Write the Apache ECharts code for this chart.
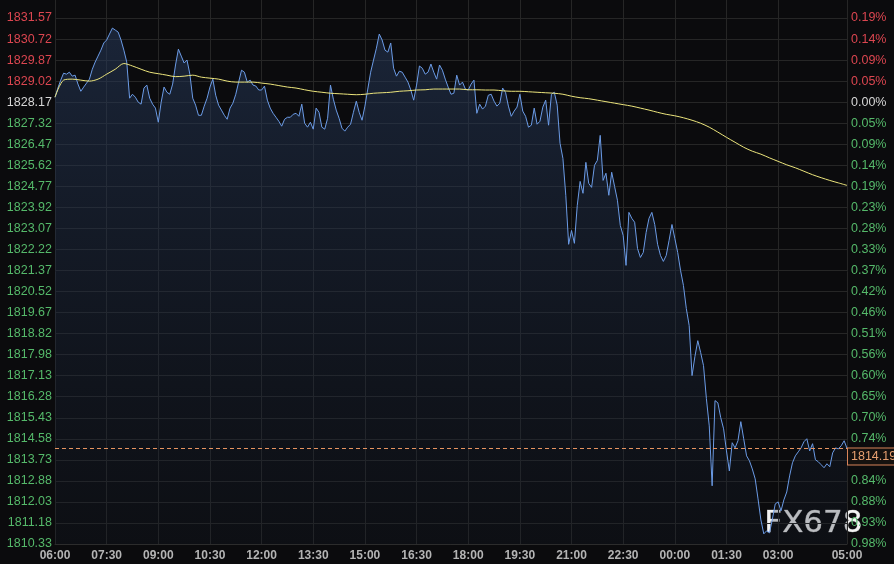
<!DOCTYPE html>
<html><head><meta charset="utf-8">
<script src="https://cdn.jsdelivr.net/npm/echarts@6/dist/echarts.min.js"></script>
<style>html,body{margin:0;padding:0;background:#0b0b0d;}#c{width:894px;height:564px;}</style>
</head><body><div id="c"></div>
<script>
// ---- data ----
const sessionStart = '06:00';
const stepMinutes = 5;          // price sampled every 5 minutes, 06:00 -> 05:00 next day
const prices = [
1828.37,1828.74,1829.06,1829.34,1829.30,1829.38,1829.22,1829.26,1828.90,1828.61,
1828.78,1828.94,1829.10,1829.50,1829.79,1830.03,1830.27,1830.56,1830.68,1830.92,
1831.16,1831.08,1831.00,1830.68,1830.27,1829.79,1828.33,1828.49,1828.37,1828.17,
1828.09,1828.74,1828.86,1828.33,1828.09,1827.93,1827.36,1828.17,1828.78,1828.57,
1828.49,1828.90,1829.67,1830.31,1830.03,1829.75,1829.87,1829.30,1828.33,1828.05,
1827.64,1827.64,1828.01,1828.33,1828.78,1829.10,1828.45,1828.05,1827.85,1827.64,
1827.48,1827.93,1828.13,1828.49,1828.98,1829.46,1829.38,1828.98,1829.06,1828.86,
1828.82,1828.66,1828.66,1828.82,1828.25,1827.93,1827.72,1827.56,1827.40,1827.20,
1827.48,1827.56,1827.56,1827.68,1827.72,1827.60,1828.09,1827.32,1827.16,1827.36,
1827.08,1827.93,1827.76,1827.16,1827.08,1827.52,1828.86,1828.29,1827.85,1827.52,
1827.12,1827.00,1827.16,1827.28,1827.76,1828.21,1827.76,1827.44,1828.01,1828.70,
1829.38,1829.87,1830.35,1830.92,1830.68,1830.27,1830.19,1830.56,1829.54,1829.22,
1829.42,1829.38,1829.18,1828.98,1828.66,1828.25,1828.86,1829.63,1829.54,1829.30,
1829.38,1829.71,1829.38,1829.10,1829.67,1829.46,1829.10,1828.78,1828.49,1828.53,
1829.26,1828.86,1828.98,1828.70,1828.66,1828.90,1829.06,1827.72,1828.09,1827.89,
1828.01,1828.45,1828.49,1828.21,1828.01,1828.13,1828.74,1828.57,1828.01,1827.60,
1827.81,1827.97,1828.49,1827.81,1827.60,1827.16,1827.24,1827.93,1827.28,1827.40,
1827.97,1828.25,1827.24,1828.49,1828.57,1828.05,1826.51,1825.90,1824.41,1822.43,
1822.99,1822.47,1824.00,1824.97,1824.49,1825.74,1824.89,1824.73,1825.62,1825.82,
1826.83,1825.01,1825.30,1824.41,1825.34,1824.77,1824.21,1823.19,1822.79,1821.58,
1823.72,1823.48,1823.32,1822.26,1821.90,1822.10,1822.91,1823.48,1823.72,1823.23,
1822.43,1821.98,1821.74,1821.98,1822.59,1823.23,1822.67,1822.10,1821.37,1820.77,
1819.84,1819.15,1817.13,1817.90,1818.54,1818.06,1817.53,1816.20,1815.10,1812.68,
1816.12,1816.03,1815.43,1814.98,1814.09,1813.28,1814.42,1814.21,1814.50,1815.27,
1814.58,1813.89,1813.69,1813.36,1812.96,1812.15,1811.30,1810.74,1810.86,1810.78,
1811.34,1811.95,1812.03,1811.67,1812.11,1812.43,1813.08,1813.61,1813.89,1814.05,
1814.21,1814.46,1814.58,1814.09,1814.38,1813.73,1813.65,1813.53,1813.41,1813.57,
1813.45,1814.01,1814.21,1814.17,1814.30,1814.50,1814.19
];
const maStepMinutes = 15;       // average line sampled every 15 minutes
const maValues = [
1828.37,1829.06,1829.10,1829.06,1829.02,1829.10,1829.30,1829.50,1829.73,1829.63,
1829.50,1829.38,1829.32,1829.26,1829.20,1829.22,1829.26,1829.18,1829.14,1829.10,
1829.02,1828.98,1828.98,1828.98,1828.94,1828.90,1828.84,1828.78,1828.74,1828.67,
1828.61,1828.57,1828.53,1828.51,1828.49,1828.47,1828.49,1828.53,1828.55,1828.57,
1828.61,1828.63,1828.66,1828.67,1828.70,1828.70,1828.70,1828.70,1828.67,1828.67,
1828.66,1828.66,1828.63,1828.61,1828.61,1828.59,1828.57,1828.55,1828.53,1828.49,
1828.41,1828.35,1828.31,1828.25,1828.19,1828.13,1828.07,1828.01,1827.93,1827.85,
1827.76,1827.68,1827.62,1827.54,1827.44,1827.32,1827.16,1826.96,1826.75,1826.55,
1826.35,1826.19,1826.07,1825.92,1825.78,1825.64,1825.52,1825.38,1825.24,1825.12,
1825.01,1824.91,1824.81
];
const basePrice = 1828.17;      // previous close (0.00%)
const lastPrice = 1814.19;
const yMin = 1810.33;
const yStep = 0.84947;
const yTickCount = 26;
const xLabels = ['06:00','07:30','09:00','10:30','12:00','13:30','15:00','16:30','18:00','19:30','21:00','22:30','00:00','01:30','03:00','05:00'];
const watermark = 'FX678';

// ---- build ----
function pad(n){return (n<10?'0':'')+n;}
const startMin = parseInt(sessionStart.slice(0,2))*60 + parseInt(sessionStart.slice(3));
const cats = prices.map((_, i) => { const t = (startMin + i*stepMinutes) % 1440; return pad(Math.floor(t/60)) + ':' + pad(t%60); });
const maRatio = maStepMinutes / stepMinutes;
const maData = maValues.map((v, j) => [cats[j*maRatio], v]);
const yMax = yMin + yTickCount*yStep;

const FONT = '"Liberation Sans", Arial, sans-serif';
const RED = '#dc4650', GREEN = '#55b96a', WHITE = '#d6d6d6';
function colorFor(v){ const d = v - basePrice; if (Math.abs(d) < 0.005) return WHITE; return d > 0 ? RED : GREEN; }
const showX = (idx, val) => xLabels.indexOf(val) >= 0;

const chart = echarts.init(document.getElementById('c'), null, {renderer:'canvas'});
chart.setOption({
  backgroundColor: '#0b0b0d',
  animation: false,
  grid: {left: 55, right: 47, top: -3, bottom: 20, containLabel: false, outerBoundsMode: 'none'},
  xAxis: {
    type: 'category', data: cats, boundaryGap: false,
    axisLine: {show: true, lineStyle: {color: '#2c2c2c'}},
    axisTick: {show: false},
    axisLabel: {interval: showX, color: '#b4b4b4', fontSize: 12, fontWeight: 'bold', fontFamily: FONT, margin: 6},
    splitLine: {show: true, interval: showX, lineStyle: {color: '#262626', width: 1}}
  },
  yAxis: [{
    type: 'value', min: yMin, max: yMax, interval: yStep, scale: true,
    axisLine: {show: false}, axisTick: {show: false},
    axisLabel: {formatter: v => v.toFixed(2), color: v => colorFor(v), fontSize: 12.5, fontFamily: FONT, margin: 3, showMaxLabel: true, hideOverlap: false},
    splitLine: {show: true, lineStyle: {color: '#262626', width: 1}}
  },{
    type: 'value', position: 'right', min: yMin, max: yMax, interval: yStep, scale: true,
    axisLine: {show: false}, axisTick: {show: false},
    axisLabel: {formatter: v => Math.abs((v - basePrice)/basePrice*100).toFixed(2) + '%', color: v => colorFor(v), fontSize: 12.5, fontFamily: FONT, margin: 4, showMaxLabel: true, hideOverlap: false},
    splitLine: {show: false}
  }],
  series: [{
    type: 'line', data: prices, showSymbol: false, symbol: 'none',
    lineStyle: {color: '#6b9be6', width: 1},
    areaStyle: {color: new echarts.graphic.LinearGradient(0,0,0,1,[{offset:0,color:'rgba(40,60,95,0.75)'},{offset:1,color:'rgba(20,28,42,0.35)'}])},
    markLine: {
      silent: true, symbol: 'none',
      data: [{yAxis: lastPrice}],
      lineStyle: {type: [4,3], color: '#e69360', width: 1},
      label: {position: 'end', distance: 1, offset: [0, 8], formatter: () => lastPrice.toFixed(2), color: '#e8a070', fontSize: 12.5, fontFamily: FONT,
              backgroundColor: '#15110f', borderColor: '#d9845a', borderWidth: 1, padding: [2,2,1,3]}
    }
  },{
    type: 'line', data: maData, showSymbol: false, symbol: 'none', smooth: 0.3,
    lineStyle: {color: '#ece57c', width: 1}
  }],
  graphic: [{
    type: 'text', left: 764, top: 508, silent: true,
    style: {text: watermark, fill: 'rgba(255,255,255,0.95)', font: 'normal 31px "DejaVu Sans", sans-serif', stroke: 'rgba(255,255,255,0.5)', lineWidth: 0.6}
  }]
});
</script></body></html>
